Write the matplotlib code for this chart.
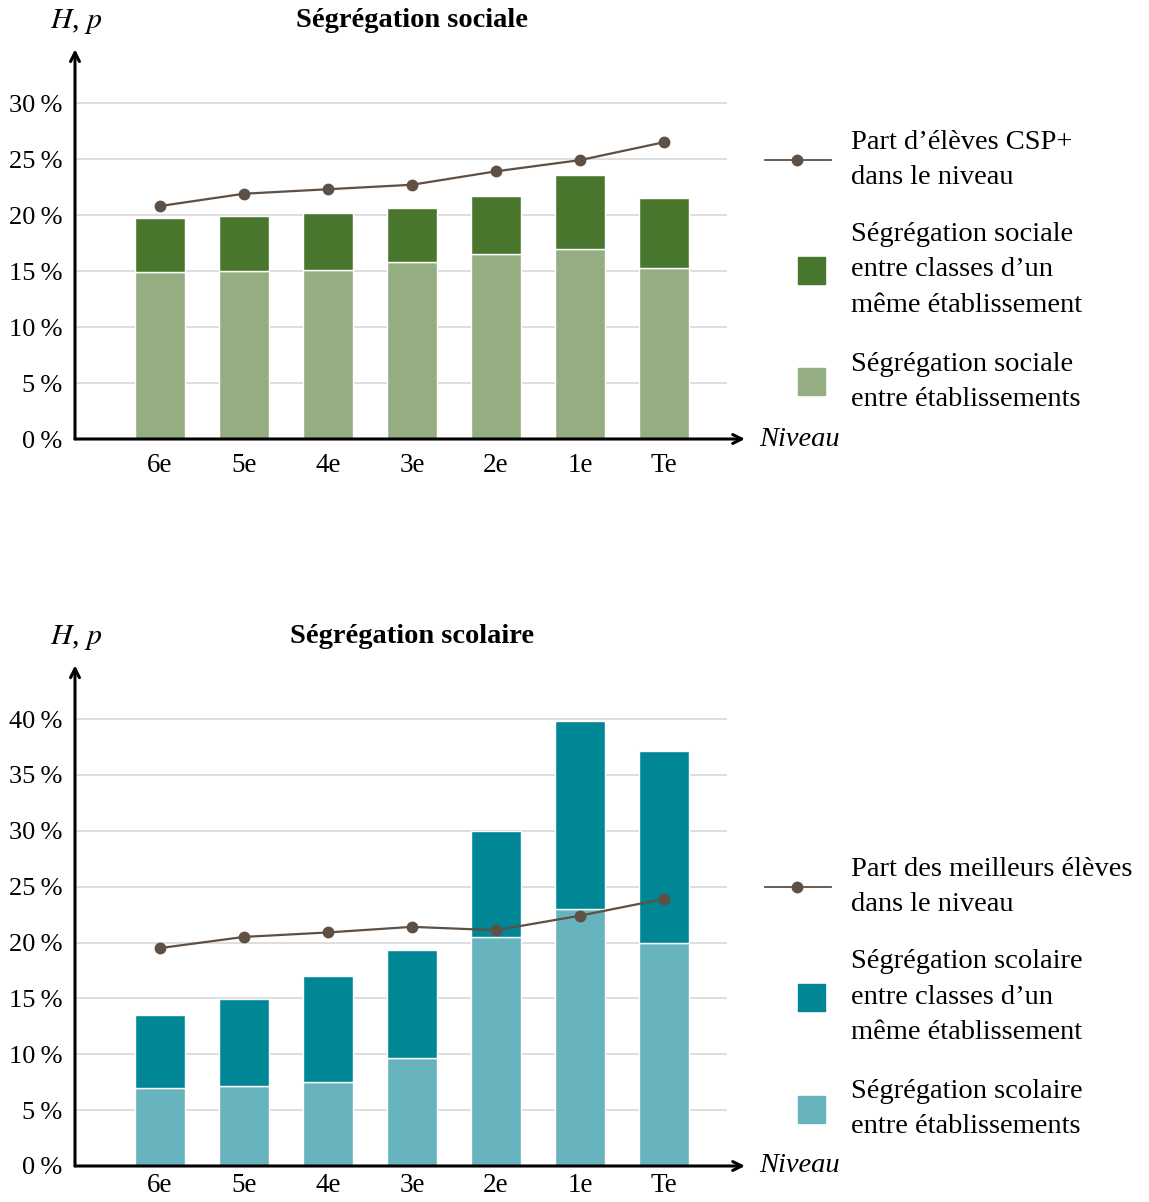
import matplotlib
matplotlib.use("Agg")
import matplotlib.pyplot as plt
from matplotlib.lines import Line2D
from matplotlib.patches import Rectangle
import numpy as np

plt.rcParams["font.family"] = ["Liberation Serif", "DejaVu Serif"]
plt.rcParams["mathtext.fontset"] = "stix"

niveaux = ["6e", "5e", "4e", "3e", "2e", "1e", "Te"]

# Ségrégation sociale (en %)
soc_entre_etab = [14.9, 15.0, 15.1, 15.8, 16.5, 17.0, 15.3]
soc_total = [19.7, 19.9, 20.2, 20.6, 21.7, 23.6, 21.5]
part_csp = [20.8, 21.9, 22.3, 22.7, 23.9, 24.9, 26.5]

# Ségrégation scolaire (en %)
sco_entre_etab = [7.0, 7.2, 7.5, 9.7, 20.5, 23.0, 20.0]
sco_total = [13.5, 14.9, 17.0, 19.3, 30.0, 39.8, 37.1]
part_meilleurs = [19.5, 20.5, 20.9, 21.4, 21.1, 22.4, 23.9]

W, H = 1149, 1202
FS = 19
FS_LEG = 20.5
LINE_COL = "#5e5045"


def px_box(x0, y_top, x1, y_bot):
    return [x0 / W, 1 - y_bot / H, (x1 - x0) / W, (y_bot - y_top) / H]


def draw_panel(fig, y_zero, y_unit, ymax, ticks, light, total, line,
               col_light, col_dark, title, leg_labels, leg_y, xpad):
    y_top = y_zero - ymax * y_unit
    ax = fig.add_axes(px_box(75, y_top, 727, y_zero))
    x = np.arange(len(niveaux))
    ax.set_xlim(-85 / 84, 567 / 84)
    ax.set_ylim(0, ymax)

    for t in ticks[1:]:
        ax.axhline(t, color="#d4d4d4", lw=1.1, zorder=0)

    dark = np.array(total) - np.array(light)
    ax.bar(x, light, width=0.6, color=col_light, edgecolor="white", lw=1.0, zorder=2)
    ax.bar(x, dark, bottom=light, width=0.6, color=col_dark, edgecolor="white", lw=1.0, zorder=2)
    ax.plot(x, line, color=LINE_COL, lw=1.6, marker="o", ms=7.5, zorder=3)

    for s in ax.spines.values():
        s.set_visible(False)
    ax.set_yticks(ticks)
    ax.set_yticklabels([f"{t}\u2009%" for t in ticks], fontsize=FS)
    ax.set_xticks(x)
    ax.set_xticklabels(niveaux, fontsize=FS + 0.5)
    ax.tick_params(axis="x", length=0, pad=xpad)
    ax.tick_params(axis="y", length=0, pad=9)

    # axes arrows
    ax.annotate("", xy=(0, 1.0), xytext=(0, 0), xycoords="axes fraction",
                arrowprops=dict(arrowstyle="->", lw=2.2, color="black",
                                shrinkA=0, shrinkB=0, mutation_scale=16),
                annotation_clip=False)
    ax.annotate("", xy=(670 / 652, 0), xytext=(0, 0), xycoords="axes fraction",
                arrowprops=dict(arrowstyle="->", lw=2.2, color="black",
                                shrinkA=0, shrinkB=0, mutation_scale=16),
                annotation_clip=False)

    fig.text(759 / W, 1 - y_zero / H, "Niveau", style="italic", fontsize=FS_LEG,
             ha="left", va="center")
    fig.text(50 / W, 1 - (y_top - 28) / H, "$H$, $p$", fontsize=FS_LEG + 1,
             ha="left", va="center")
    fig.text(412 / W, 1 - (y_top - 29) / H, title, fontsize=FS_LEG,
             fontweight="bold", ha="center", va="center")

    # legend
    ly = [1 - v / H for v in leg_y]
    fig.add_artist(Line2D([765 / W, 831 / W], [ly[0], ly[0]], color=LINE_COL, lw=1.3))
    fig.add_artist(Line2D([797 / W], [ly[0]], marker="o", ms=7.5, color=LINE_COL))
    sq_w, sq_h = 27 / W, 27 / H
    fig.add_artist(Rectangle((798 / W, ly[1] - sq_h / 2), sq_w, sq_h, color=col_dark))
    fig.add_artist(Rectangle((798 / W, ly[2] - sq_h / 2), sq_w, sq_h, color=col_light))
    for yy, lab in zip(ly, leg_labels):
        fig.text(851 / W, yy, lab, fontsize=FS_LEG, ha="left", va="center",
                 linespacing=1.55)


fig = plt.figure(figsize=(W / 100, H / 100), dpi=100)

draw_panel(fig, 439, 11.2, 34.8, [0, 5, 10, 15, 20, 25, 30],
           soc_entre_etab, soc_total, part_csp,
           "#94ae82", "#4a772e", "Ségrégation sociale",
           ["Part d’élèves CSP+\ndans le niveau",
            "Ségrégation sociale\nentre classes d’un\nmême établissement",
            "Ségrégation sociale\nentre établissements"],
           [160, 270, 382], 10)

draw_panel(fig, 1166, 11.175, 44.8, [0, 5, 10, 15, 20, 25, 30, 35, 40],
           sco_entre_etab, sco_total, part_meilleurs,
           "#67b4be", "#008694", "Ségrégation scolaire",
           ["Part des meilleurs élèves\ndans le niveau",
            "Ségrégation scolaire\nentre classes d’un\nmême établissement",
            "Ségrégation scolaire\nentre établissements"],
           [887, 997, 1109], 5)

fig.savefig("out.png", dpi=100)
